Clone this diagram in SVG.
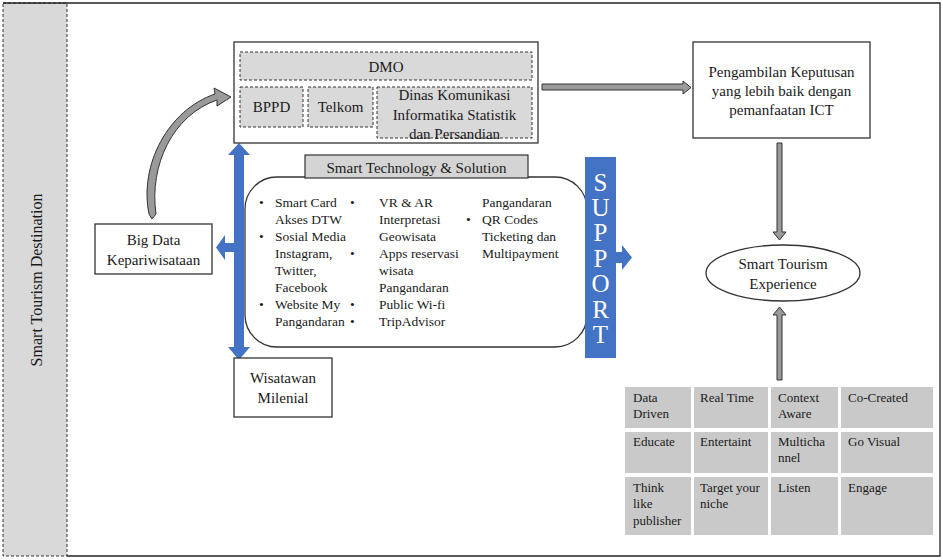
<svg xmlns="http://www.w3.org/2000/svg" width="943" height="560" viewBox="0 0 943 560">
<style>
text{font-family:"Liberation Serif","Times New Roman",serif;fill:#1a1a1a}
.c{text-anchor:middle}
.t15{font-size:15px}
.t13{font-size:13.5px}
.g13{font-size:13px}
.box{fill:#fff;stroke:#333;stroke-width:1.3}
.dash{fill:#d9d9d9;stroke:#333;stroke-width:1;stroke-dasharray:3 2}
.cell{fill:#c9c9c9}
.blue{fill:#4472c4}
.garrow{fill:#9a9a9a;stroke:#333;stroke-width:1}
.sup{font-size:25px;fill:#fff;text-anchor:middle}
</style>
<rect width="943" height="560" fill="#fff"/>
<g id="frame">
<rect x="3" y="3" width="64" height="553" fill="#d9d9d9" stroke="#333" stroke-width="1" stroke-dasharray="3 2"/>
<path d="M3,3 H940 V556 H67" fill="none" stroke="#222" stroke-width="1.3"/>
<text class="c" transform="translate(42,280) rotate(-90)" style="font-size:16px">Smart Tourism Destination</text>
</g>
<g id="connectors">
<path class="garrow" d="M149,214 C139,165 168,110 215,94 L214,88 L231,97 L217,106 L217,100 C173,115 149,165 156,214 L152,219 Z"/>
<path class="garrow" d="M542,84 H683 V81 L691,87.5 L683,94 V90 H542 Z"/>
<path class="garrow" d="M777,143 H782 V232 H786 L779.5,240 L773,232 H777 Z"/>
<path class="garrow" d="M777,380 H782 V315 H786 L779.5,307 L773,315 H777 Z"/>
<path class="blue" d="M234,155 H228 L239,143 L250,155 H244 V347 H250 L239,360 L228,347 H234 V252 H225 V260 L216,247.5 L225,235 V243 H234 Z"/>
<path class="blue" d="M616,252 H622 V245 L632,257.5 L622,270 V263 H616 Z"/>
</g>
<g id="dmo">
<rect class="box" x="234" y="42" width="304" height="101"/>
<rect class="dash" x="240" y="52" width="292" height="28"/>
<text class="c t15" x="386" y="72">DMO</text>
</g>
<g id="bppd">
<rect class="dash" x="240" y="87" width="63" height="40"/>
<text class="c t15" x="271.5" y="112">BPPD</text>
</g>
<g id="telkom">
<rect class="dash" x="308" y="87" width="65" height="40"/>
<text class="c t15" x="340.5" y="112">Telkom</text>
</g>
<g id="dinas">
<rect class="dash" x="377" y="87" width="155" height="51"/>
<text class="c t15" x="454.5" y="100">Dinas Komunikasi</text>
<text class="c t15" x="454.5" y="120">Informatika Statistik</text>
<text class="c t15" x="454.5" y="139">dan Persandian</text>
</g>
<g id="keputusan">
<rect class="box" x="693" y="42" width="177" height="96"/>
<text class="c t15" x="781.5" y="77">Pengambilan Keputusan</text>
<text class="c t15" x="781.5" y="96">yang lebih baik dengan</text>
<text class="c t15" x="781.5" y="115">pemanfaatan ICT</text>
</g>
<g id="bigdata">
<rect class="box" x="95" y="224" width="117" height="50"/>
<text class="c t15" x="153.5" y="245">Big Data</text>
<text class="c t15" x="153.5" y="265">Kepariwisataan</text>
</g>
<g id="smarttech">
<rect class="box" x="245" y="177" width="342" height="170" rx="32" ry="32"/>
<rect x="305" y="155" width="223" height="23" fill="#d4d4d4" stroke="#333" stroke-width="1.2"/>
<text class="c t15" x="416.5" y="172.5">Smart Technology &amp; Solution</text>
<g class="t13">
<text x="259" y="207">•</text><text x="275" y="207">Smart Card</text>
<text x="275" y="224">Akses DTW</text>
<text x="259" y="241">•</text><text x="275" y="241">Sosial Media</text>
<text x="275" y="258">Instagram,</text>
<text x="275" y="275">Twitter,</text>
<text x="275" y="292">Facebook</text>
<text x="259" y="309">•</text><text x="275" y="309">Website My</text>
<text x="275" y="326">Pangandaran</text>
<text x="350" y="207">•</text><text x="379" y="207">VR &amp; AR</text>
<text x="379" y="224">Interpretasi</text>
<text x="379" y="241">Geowisata</text>
<text x="350" y="258">•</text><text x="379" y="258">Apps reservasi</text>
<text x="379" y="275">wisata</text>
<text x="379" y="292">Pangandaran</text>
<text x="350" y="309">•</text><text x="379" y="309">Public Wi-fi</text>
<text x="350" y="326">•</text><text x="379" y="326">TripAdvisor</text>
<text x="482" y="207">Pangandaran</text>
<text x="466" y="224">•</text><text x="482" y="224">QR Codes</text>
<text x="482" y="241">Ticketing dan</text>
<text x="482" y="258">Multipayment</text>
</g>
</g>
<g id="support">
<rect class="blue" x="585" y="157" width="31" height="201"/>
<text class="sup" x="600.5" y="191">S</text>
<text class="sup" x="600.5" y="216">U</text>
<text class="sup" x="600.5" y="241">P</text>
<text class="sup" x="600.5" y="267">P</text>
<text class="sup" x="600.5" y="292">O</text>
<text class="sup" x="600.5" y="318">R</text>
<text class="sup" x="600.5" y="343">T</text>
</g>
<g id="wisatawan">
<rect class="box" x="234" y="358" width="98" height="59"/>
<text class="c t15" x="283" y="383">Wisatawan</text>
<text class="c t15" x="283" y="403">Milenial</text>
</g>
<g id="experience">
<ellipse cx="783" cy="273" rx="77" ry="28" fill="#fff" stroke="#333" stroke-width="1.3"/>
<text class="c t15" x="783" y="269">Smart Tourism</text>
<text class="c t15" x="783" y="289">Experience</text>
</g>
<g id="grid" class="g13">
<rect class="cell" x="625" y="387" width="66" height="41"/>
<rect class="cell" x="694" y="387" width="74" height="41"/>
<rect class="cell" x="771" y="387" width="67" height="41"/>
<rect class="cell" x="841" y="387" width="92" height="41"/>
<rect class="cell" x="625" y="432" width="66" height="41"/>
<rect class="cell" x="694" y="432" width="74" height="41"/>
<rect class="cell" x="771" y="432" width="67" height="41"/>
<rect class="cell" x="841" y="432" width="92" height="41"/>
<rect class="cell" x="625" y="477" width="66" height="58"/>
<rect class="cell" x="694" y="477" width="74" height="58"/>
<rect class="cell" x="771" y="477" width="67" height="58"/>
<rect class="cell" x="841" y="477" width="92" height="58"/>
<text x="633" y="402">Data</text><text x="633" y="418">Driven</text>
<text x="700" y="402">Real Time</text>
<text x="778" y="402">Context</text><text x="778" y="418">Aware</text>
<text x="848" y="402">Co-Created</text>
<text x="633" y="446">Educate</text>
<text x="700" y="446">Entertaint</text>
<text x="778" y="446">Multicha</text><text x="778" y="462">nnel</text>
<text x="848" y="446">Go Visual</text>
<text x="633" y="492">Think</text><text x="633" y="508">like</text><text x="633" y="525">publisher</text>
<text x="700" y="492">Target your</text><text x="700" y="508">niche</text>
<text x="778" y="492">Listen</text>
<text x="848" y="492">Engage</text>
</g>
</svg>
